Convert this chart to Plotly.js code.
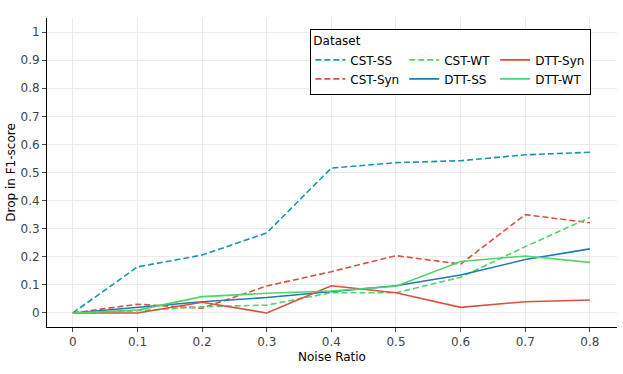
<!DOCTYPE html>
<html>
<head>
<meta charset="utf-8">
<script src="https://cdn.plot.ly/plotly-3.0.1.min.js"></script>
<style>
  html, body { margin: 0; padding: 0; background: #fff; }
  #plot-area { width: 623px; height: 374px; }
</style>
</head>
<body>
<div id="plot-area"></div>
<script>
// noise ratios on the x axis
var noiseRatio = [0, 0.1, 0.2, 0.3, 0.4, 0.5, 0.6, 0.7, 0.8];

// drop in F1-score per dataset
var cstSS  = [0, 0.164, 0.206, 0.285, 0.516, 0.535, 0.542, 0.563, 0.572];
var cstSyn = [0, 0.031, 0.017, 0.096, 0.147, 0.204, 0.174, 0.350, 0.321];
var cstWT  = [0, 0.008, 0.022, 0.028, 0.072, 0.072, 0.127, 0.236, 0.340];
var dttSS  = [0, 0.019, 0.040, 0.055, 0.075, 0.097, 0.135, 0.190, 0.228];
var dttSyn = [0, 0.000, 0.038, 0.000, 0.097, 0.072, 0.020, 0.040, 0.046];
var dttWT  = [0, 0.010, 0.058, 0.070, 0.078, 0.095, 0.183, 0.203, 0.180];

var yTicks = [0, 0.1, 0.2, 0.3, 0.4, 0.5, 0.6, 0.7, 0.8, 0.9, 1];
var yTickText = ["0", "0.1", "0.2", "0.3", "0.4", "0.5", "0.6", "0.7", "0.8", "0.9", "1"];
var xTickText = ["0", "0.1", "0.2", "0.3", "0.4", "0.5", "0.6", "0.7", "0.8"];

var teal = "#1b93ae", blue = "#1f7bb2", red = "#d9503f", green = "#4fd46c";
var dashed = "6px,3px";

// legend columns are done with legend groups (3 columns, 2 rows)
function line(name, y, color, dash, col) {
    return {
        x: noiseRatio, y: y, name: name, mode: "lines",
        line: {color: color, dash: dash, width: 1.6},
        legendgroup: col
    };
}

var data = [
    line("CST-SS", cstSS, teal, dashed, "c1"),
    line("CST-Syn", cstSyn, red, dashed, "c1"),
    line("CST-WT", cstWT, green, dashed, "c2"),
    line("DTT-SS", dttSS, blue, "solid", "c2"),
    line("DTT-Syn", dttSyn, red, "solid", "c3"),
    line("DTT-WT", dttWT, green, "solid", "c3")
];

var layout = {
    width: 623, height: 374,
    margin: {l: 47, r: 6, t: 18, b: 47, autoexpand: false},
    paper_bgcolor: "#fff", plot_bgcolor: "#fff",
    font: {family: "DejaVu Sans", size: 12, color: "#000"},
    showlegend: true,
    legend: {
        orientation: "h", traceorder: "grouped", tracegroupgap: 0,
        x: 0.955, y: 0.965, xanchor: "right", yanchor: "top",
        bgcolor: "#fff", bordercolor: "#000", borderwidth: 1,
        itemwidth: 30,
        title: {text: "Dataset", side: "top", font: {size: 12}},
        font: {size: 12}
    },
    xaxis: {
        title: {text: "Noise Ratio", font: {size: 12}, standoff: 4},
        range: [-0.04, 0.842], tickvals: noiseRatio, ticktext: xTickText,
        showgrid: true, gridcolor: "#ebebeb", zeroline: false,
        showline: true, linecolor: "#000", linewidth: 1,
        ticks: "outside", ticklen: 4, tickcolor: "#444",
        tickfont: {color: "#444", size: 12}
    },
    yaxis: {
        title: {text: "Drop in F1-score", font: {size: 12}, standoff: 2},
        range: [-0.05, 1.05], tickvals: yTicks, ticktext: yTickText,
        showgrid: true, gridcolor: "#ebebeb", zeroline: false,
        showline: true, linecolor: "#000", linewidth: 1,
        ticks: "outside", ticklen: 4, tickcolor: "#444",
        tickfont: {color: "#444", size: 12}
    }
};

Plotly.newPlot("plot-area", data, layout, {displayModeBar: false, staticPlot: true});
</script>
</body>
</html>
